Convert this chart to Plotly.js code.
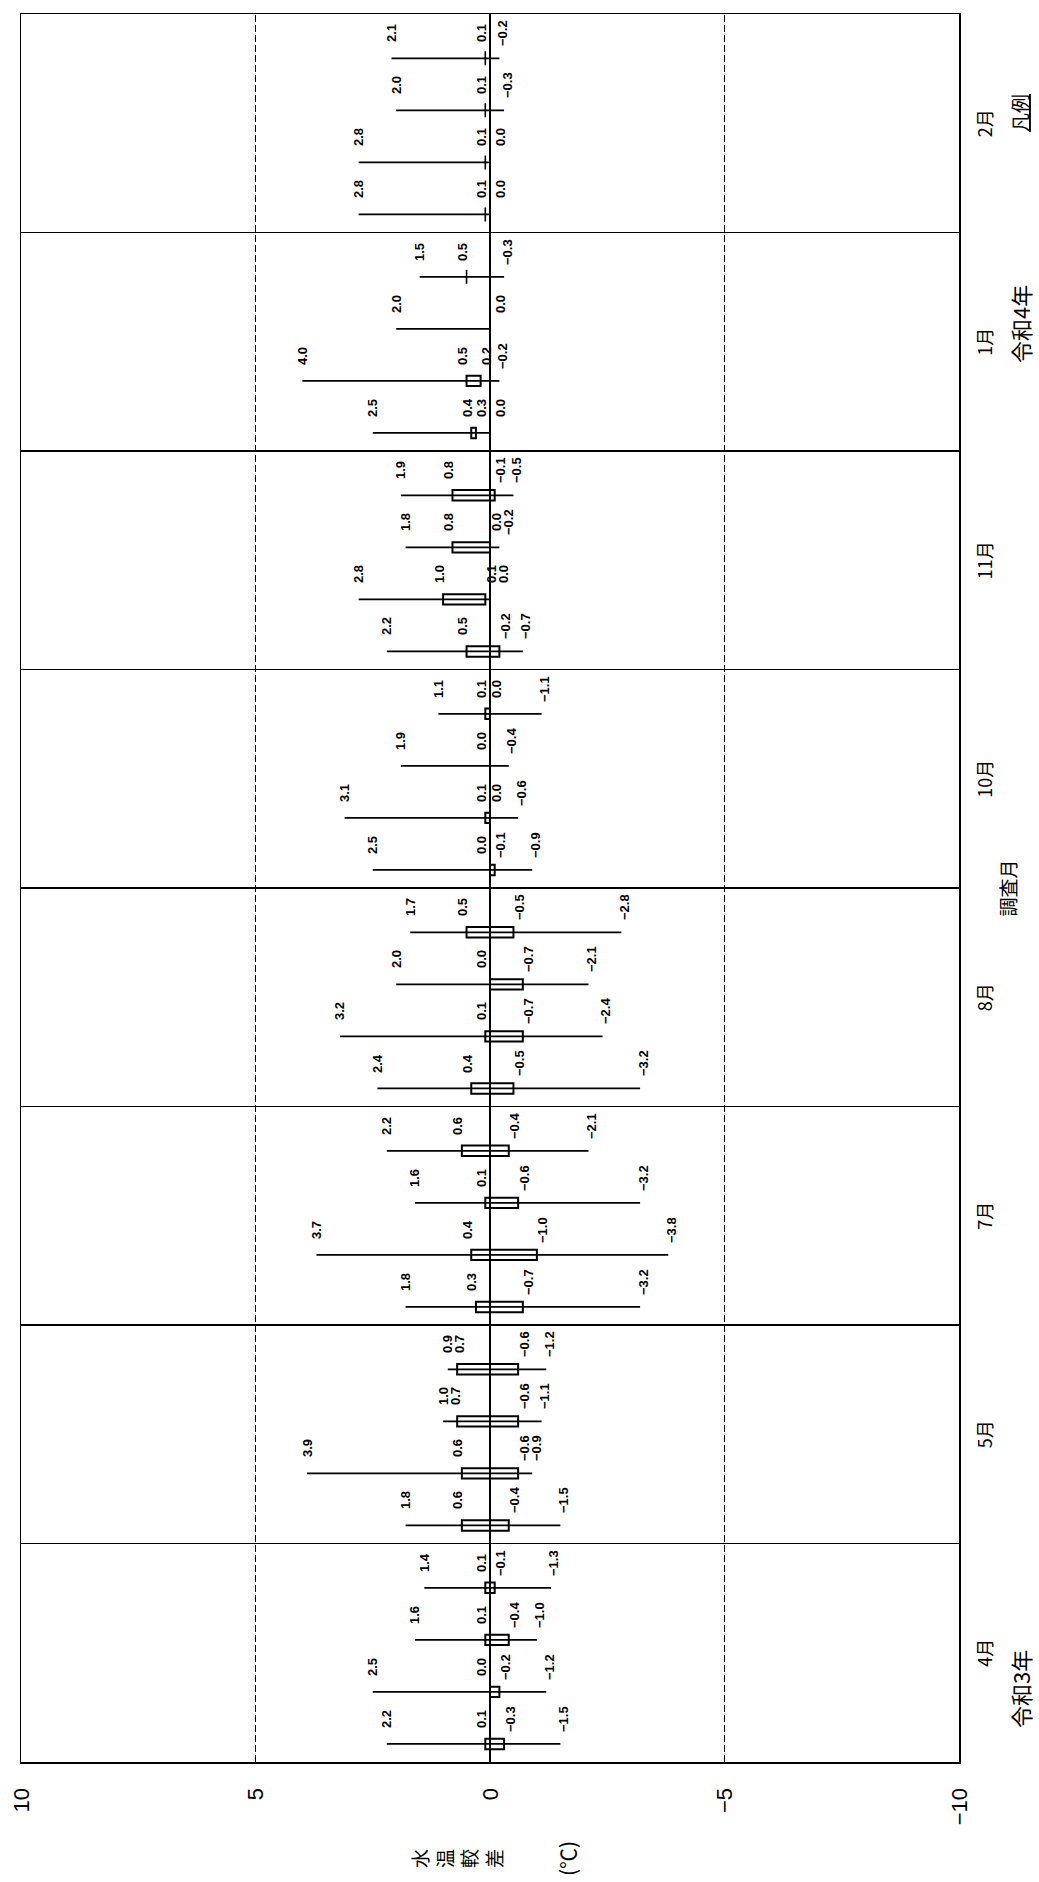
<!DOCTYPE html>
<html>
<head>
<meta charset="utf-8">
<script src="https://cdn.plot.ly/plotly-3.0.1.min.js"></script>
<style>
html,body{margin:0;padding:0;background:#fff;overflow:hidden;}
#page{position:relative;width:1039px;height:1882px;overflow:hidden;background:#fff;}
#chart{position:absolute;left:0;top:0;width:1882px;height:1039px;transform-origin:0 0;transform:translate(0,1882px) rotate(-90deg);}
</style>
</head>
<body>
<div id="page"><div id="chart"></div></div>
<script>
// ---- data (4 survey points per month, left to right) ----
const months = ['4月','5月','7月','8月','10月','11月','1月','2月'];
const maxV = [
  2.2, 2.5, 1.6, 1.4,
  1.8, 3.9, 1.0, 0.9,
  1.8, 3.7, 1.6, 2.2,
  2.4, 3.2, 2.0, 1.7,
  2.5, 3.1, 1.9, 1.1,
  2.2, 2.8, 1.8, 1.9,
  2.5, 4.0, 2.0, 1.5,
  2.8, 2.8, 2.0, 2.1
];
const upperV = [
  0.1, 0.0, 0.1, 0.1,
  0.6, 0.6, 0.7, 0.7,
  0.3, 0.4, 0.1, 0.6,
  0.4, 0.1, 0.0, 0.5,
  0.0, 0.1, 0.0, 0.1,
  0.5, 1.0, 0.8, 0.8,
  0.4, 0.5, 0.0, 0.5,
  0.1, 0.1, 0.1, 0.1
];
const lowerV = [
  -0.3, -0.2, -0.4, -0.1,
  -0.4, -0.6, -0.6, -0.6,
  -0.7, -1.0, -0.6, -0.4,
  -0.5, -0.7, -0.7, -0.5,
  -0.1, 0.0, 0.0, 0.0,
  -0.2, 0.1, 0.0, -0.1,
  0.3, 0.2, 0.0, 0.5,
  0.1, 0.1, 0.1, 0.1
];
const minV = [
  -1.5, -1.2, -1.0, -1.3,
  -1.5, -0.9, -1.1, -1.2,
  -3.2, -3.8, -3.2, -2.1,
  -3.2, -2.4, -2.1, -2.8,
  -0.9, -0.6, -0.4, -1.1,
  -0.7, 0.0, -0.2, -0.5,
  0.0, -0.2, 0.0, -0.3,
  0.0, 0.0, -0.3, -0.2
];
const valueTicks = [10, 5, 0, -5, -10];
const valueTickText = ['10', '5', '0', '−5', '−10'];
const yearLabels = ['令和3年', '令和4年'];
const yearMonthIndex = [0, 6];

// ---- layout geometry ----
const W = 1882, H = 1039;
const M = {l: 120, r: 14, t: 21, b: 80};
const plotH = H - M.t - M.b;
const ppu = plotH / 20;           // pixels per degree
const PER = 4;                    // points per month
const FIRST = 0.33, STEP = 0.953; // offsets inside a month block
const pos = maxV.map((_, k) => Math.floor(k / PER) * PER + FIRST + (k % PER) * STEP);
const monthTicks = months.map((_, i) => i * PER + PER / 2);
const yearShift = [-36, 18];

const numFont = "'Liberation Sans Narrow', 'Liberation Sans', Arial, sans-serif";
const jpFont = "'Noto Sans CJK JP', 'Noto Sans', sans-serif";

// whiskers
const wx = [], wy = [];
pos.forEach((p, k) => { wx.push(p, p, null); wy.push(maxV[k], minV[k], null); });

// boxes
const bx = [], bb = [], bh = [];
const tx = [], ty = [];
pos.forEach((p, k) => {
  if (upperV[k] !== lowerV[k]) { bx.push(p); bb.push(lowerV[k]); bh.push(upperV[k] - lowerV[k]); }
  else { tx.push(p); ty.push(upperV[k]); }
});

const traces = [
  {type: 'bar', x: bx, y: bh, base: bb, width: 0.19,
   marker: {color: 'rgba(0,0,0,0)', line: {color: '#000', width: 2}},
   hoverinfo: 'skip', showlegend: false},
  {type: 'scatter', mode: 'lines', x: wx, y: wy,
   line: {color: '#000', width: 1.7}, hoverinfo: 'skip', showlegend: false},
  {type: 'scatter', mode: 'markers', x: tx, y: ty,
   marker: {symbol: 'line-ew', size: 10, line: {color: '#000', width: 1.6}},
   hoverinfo: 'skip', showlegend: false}
];

// value labels
function fmt(v) { return (v < 0 ? '−' : '') + Math.abs(v).toFixed(1); }
const SHIFT = {max: 0, upper: 4, lower: -6, min: -3};
const annotations = [];
pos.forEach((p, k) => {
  const L = [{v: maxV[k], t: 'max'}, {v: upperV[k], t: 'upper'}];
  if (lowerV[k] !== upperV[k]) L.push({v: lowerV[k], t: 'lower'});
  if (minV[k] === L[L.length - 1].v) L[L.length - 1] = {v: minV[k], t: 'min'};
  else L.push({v: minV[k], t: 'min'});
  let prev = Infinity;
  L.forEach(lb => {
    let px = lb.v * ppu + SHIFT[lb.t];
    if (lb.t === 'upper' && lb.v >= 0 && px < 9) px = 9;
    if (lb.t === 'min' && Math.abs(px) < 10) px = -10;
    if (px > prev - 12) px = prev - 12;
    prev = px;
    annotations.push({
      xref: 'x', yref: 'y', x: p, y: lb.v, text: fmt(lb.v), showarrow: false,
      xanchor: 'center', yanchor: 'middle', xshift: 25, yshift: px - lb.v * ppu,
      font: {family: numFont, size: 13, color: '#000', weight: 'bold'}
    });
  });
});

// year labels under months
yearLabels.forEach((t, i) => {
  annotations.push({xref: 'x', yref: 'paper', x: monthTicks[yearMonthIndex[i]], y: -0.065,
    xshift: yearShift[i],
    text: t, showarrow: false, xanchor: 'center', yanchor: 'middle',
    font: {family: jpFont, size: 22, color: '#000'}});
});
// legend caption
annotations.push({xref: 'x', yref: 'paper', x: monthTicks[7], y: -0.065, xshift: 10,
  text: '<u>凡例</u>', showarrow: false, xanchor: 'center', yanchor: 'middle',
  font: {family: jpFont, size: 19, color: '#000'}});
// vertical value-axis title
annotations.push({xref: 'paper', yref: 'paper', x: (23 - M.l) / (W - M.l - M.r), y: (H - M.b - 457) / plotH,
  text: '水<br>温<br>較<br>差', showarrow: false, xanchor: 'center', yanchor: 'middle',
  font: {family: jpFont, size: 19, color: '#000'}});
annotations.push({xref: 'paper', yref: 'paper', x: (23 - M.l) / (W - M.l - M.r), y: (H - M.b - 567) / plotH,
  text: '(℃)', showarrow: false, xanchor: 'center', yanchor: 'middle',
  font: {family: jpFont, size: 21, color: '#000'}});

const layout = {
  width: W, height: H,
  margin: M,
  paper_bgcolor: '#fff', plot_bgcolor: '#fff',
  barmode: 'overlay',
  showlegend: false,
  xaxis: {
    range: [0, months.length * PER],
    tickmode: 'array', tickvals: monthTicks, ticktext: months,
    showgrid: false, zeroline: false,
    showline: true, mirror: true, linecolor: '#000', linewidth: 1.5,
    ticks: '', ticklabelstandoff: 10,
    tickfont: {family: jpFont, size: 18, color: '#000'},
    minor: {tickmode: 'linear', tick0: 0, dtick: PER, showgrid: true, gridcolor: '#000', gridwidth: 1.2, ticks: ''},
    title: {text: '調査月', font: {family: jpFont, size: 19, color: '#000'}, standoff: 6}
  },
  yaxis: {
    range: [-10, 10],
    tickmode: 'array', tickvals: valueTicks, ticktext: valueTickText,
    showgrid: true, gridcolor: '#000', gridwidth: 1, griddash: '7px,3px',
    zeroline: true, zerolinecolor: '#000', zerolinewidth: 1.6,
    showline: true, mirror: true, linecolor: '#000', linewidth: 1.5,
    ticks: '', ticklabelstandoff: 20,
    tickfont: {family: numFont, size: 22, color: '#000'}
  },
  annotations: annotations
};

Plotly.newPlot('chart', traces, layout, {staticPlot: true, displayModeBar: false});
</script>
</body>
</html>
